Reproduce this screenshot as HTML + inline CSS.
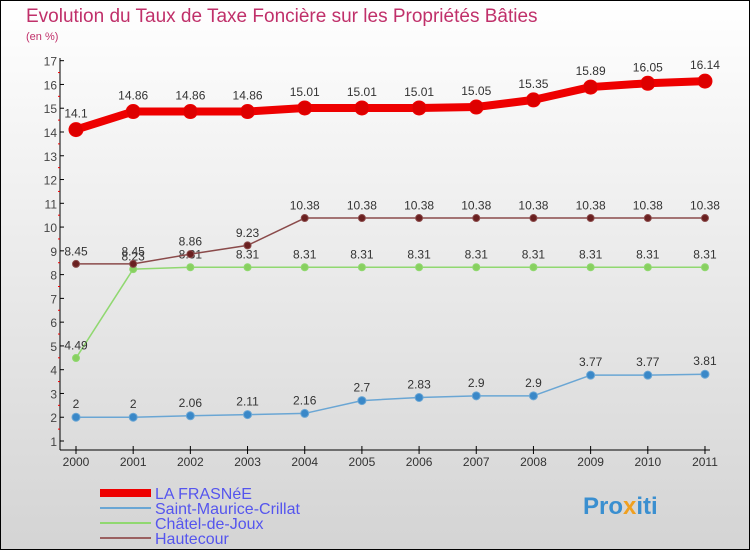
<!DOCTYPE html>
<html><head><meta charset="utf-8"><style>
body{margin:0}
svg{display:block;font-family:"Liberation Sans","DejaVu Sans",sans-serif}
</style></head><body>
<svg width="750" height="550" viewBox="0 0 750 550">
<defs><linearGradient id="bg" x1="0" y1="0" x2="0" y2="1"><stop offset="0" stop-color="#ffffff"/><stop offset="1" stop-color="#d4d4d4"/></linearGradient></defs>
<rect x="0.5" y="0.5" width="749" height="549" fill="url(#bg)" stroke="#000"/>
<text x="26" y="22" font-size="19" fill="#c0306a">Evolution du Taux de Taxe Foncière sur les Propriétés Bâties</text>
<text x="26" y="40" font-size="11" fill="#c0306a">(en %)</text>
<g id="axes"></g><g id="series"></g><g id="legend"></g>
<text x="583" y="514" font-size="24" font-weight="bold" fill="#3a8fd0">Pro<tspan fill="#f0a020">x</tspan>iti</text>
</svg>
<script>
const years=["2000","2001","2002","2003","2004","2005","2006","2007","2008","2009","2010","2011"];
const yTicks=[1,2,3,4,5,6,7,8,9,10,11,12,13,14,15,16,17];
const laFrasnee=[14.1,14.86,14.86,14.86,15.01,15.01,15.01,15.05,15.35,15.89,16.05,16.14];
const saintMaurice=[2,2,2.06,2.11,2.16,2.7,2.83,2.9,2.9,3.77,3.77,3.81];
const chatel=[4.49,8.23,8.31,8.31,8.31,8.31,8.31,8.31,8.31,8.31,8.31,8.31];
const hautecour=[8.45,8.45,8.86,9.23,10.38,10.38,10.38,10.38,10.38,10.38,10.38,10.38];
const seriesNames=["LA FRASNéE","Saint-Maurice-Crillat","Châtel-de-Joux","Hautecour"];
const NS="http://www.w3.org/2000/svg";
const X=i=>76+i*57.18, Y=v=>441-(v-1)*23.77;
function mk(p,t,a){const e=document.createElementNS(NS,t);for(const k in a)e.setAttribute(k,a[k]);p.appendChild(e);return e;}
const ax=document.getElementById('axes');
let l=mk(ax,'line',{x1:60,y1:58,x2:60,y2:450,stroke:'#000'});


l=mk(ax,'line',{x1:60,y1:450,x2:710,y2:450,stroke:'#000'});


yTicks.forEach(v=>{
 mk(ax,'line',{x1:60,x2:64,y1:Y(v),y2:Y(v),stroke:'#000'});
 if(v<17) mk(ax,'line',{x1:58,x2:60,y1:Y(v+0.5),y2:Y(v+0.5),stroke:'#e00'});
 const t=mk(ax,'text',{x:57,y:Y(v)+5,'font-size':12,fill:'#444','text-anchor':'end'});
 t.textContent=v;
 
 
});
years.forEach((y,i)=>{
 mk(ax,'line',{x1:X(i),x2:X(i),y1:446,y2:454,stroke:'#000'});
 const t=mk(ax,'text',{x:X(i),y:466,'font-size':12,fill:'#333','text-anchor':'middle'});
 t.textContent=y;
 
 
});
const sg=document.getElementById('series');
function draw(data,color,w,r,dot,name,lblColor){
 const g=mk(sg,'g',{});
 
 
 const p=mk(g,'polyline',{points:data.map((v,i)=>X(i)+','+Y(v)).join(' '),fill:'none',stroke:color,'stroke-width':w,'stroke-linejoin':'round'});
 
 
 data.forEach((v,i)=>{
  const c=mk(g,'circle',{cx:X(i),cy:Y(v),r:r,fill:dot,stroke:color,'stroke-width':1});
  
  
  const t=mk(g,'text',{x:X(i),y:Y(v)-r-5,'font-size':12,fill:lblColor,'text-anchor':'middle'});
  t.textContent=v;
  
  
 });
}
draw(saintMaurice,'#6aa6d4',1.5,4,'#3a88c8','saint-maurice','#333');
draw(chatel,'#90d870',1.5,3.5,'#88d060','chatel','#333');
draw(hautecour,'#8a4a4a',1.5,3.5,'#6a2020','hautecour','#333');
draw(laFrasnee,'#ee0000',8,7,'#dd0000','la-frasnee','#333');
const lg=document.getElementById('legend');
const lc=['#ee0000','#6aa6d4','#90d870','#9a6060'],lw=[8,2,2,2];
seriesNames.forEach((n,i)=>{
 const y=493+i*15;
 const ln=mk(lg,'line',{x1:100,x2:151,y1:y,y2:y,stroke:lc[i],'stroke-width':lw[i]});
 
 
 const t=mk(lg,'text',{x:155,y:y+6,'font-size':16,fill:'#5555ee'});
 t.textContent=n;
 
 
});
</script>
</body></html>
